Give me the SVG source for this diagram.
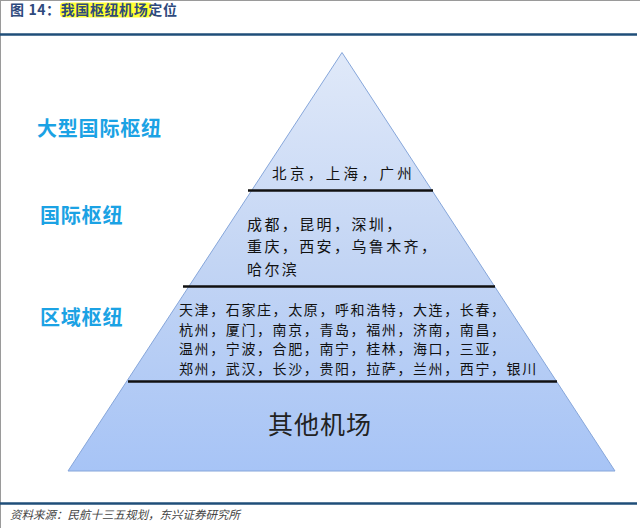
<svg xmlns="http://www.w3.org/2000/svg" width="640" height="528" viewBox="0 0 640 528">
  <defs>
    <linearGradient id="pyr" x1="0" y1="52" x2="0" y2="471" gradientUnits="userSpaceOnUse">
      <stop offset="0" stop-color="#e0e9f9"/>
      <stop offset="0.5" stop-color="#c3d5f4"/>
      <stop offset="1" stop-color="#a7c4f6"/>
    </linearGradient>
    <style>
      .cjk { font-family: "Noto Sans CJK SC", "Liberation Sans", sans-serif; }
      .title { font-size: 14px; font-weight: bold; fill: #2e4a7d; letter-spacing: 0.6px; }
      .tier { font-size: 20px; font-weight: bold; fill: #1ba2e4; letter-spacing: 0.8px; }
      .t1 { font-size: 14.5px; fill: #111; letter-spacing: 3.4px; }
      .t2 { font-size: 15px; fill: #111; letter-spacing: 2.4px; }
      .t3 { font-size: 14px; fill: #111; letter-spacing: 1.6px; }
      .t4 { font-size: 25px; fill: #222; letter-spacing: 1px; }
      .foot { font-size: 11.5px; fill: #444; font-style: italic; }
      .divider { stroke: #111; stroke-width: 2.5; }
      .rule { stroke: #1f4e79; stroke-width: 2.5; }
    </style>
  </defs>
  <rect width="640" height="528" fill="#ffffff"/>
  <line x1="0" y1="0.5" x2="640" y2="0.5" stroke="#9a9a9a" stroke-width="1"/>
  <line x1="0.5" y1="0" x2="0.5" y2="528" stroke="#9a9a9a" stroke-width="1"/>

  <g id="title">
    <rect x="60" y="2.5" width="92" height="15" rx="4" fill="#ffff33"/>
    <text class="cjk title" x="10" y="15">图 14：我国枢纽机场定位</text>
  </g>
  <line class="rule" x1="0" y1="34.5" x2="637" y2="34.5"/>

  <g id="pyramid">
    <polygon points="342,52.5 615,471 68,471" fill="url(#pyr)" stroke="#86a6da" stroke-width="1"/>
  </g>

  <g id="connectors">
    <line class="divider" x1="248" y1="190.5" x2="433" y2="190.5"/>
    <line class="divider" x1="183" y1="286.5" x2="495" y2="286.5"/>
    <line class="divider" x1="128" y1="381.5" x2="557" y2="381.5"/>
  </g>

  <g id="tier-large-intl">
    <text class="cjk tier" x="37" y="135.5">大型国际枢纽</text>
    <text class="cjk t1" x="272" y="179">北京，上海，广州</text>
  </g>

  <g id="tier-intl">
    <text class="cjk tier" x="40" y="222.5">国际枢纽</text>
    <text class="cjk t2" x="247" y="229.5">成都，昆明，深圳，</text>
    <text class="cjk t2" x="247" y="252">重庆，西安，乌鲁木齐，</text>
    <text class="cjk t2" x="247" y="274.5">哈尔滨</text>
  </g>

  <g id="tier-regional">
    <text class="cjk tier" x="40" y="324.5">区域枢纽</text>
    <text class="cjk t3" x="179" y="315">天津，石家庄，太原，呼和浩特，大连，长春，</text>
    <text class="cjk t3" x="179" y="334.5">杭州，厦门，南京，青岛，福州，济南，南昌，</text>
    <text class="cjk t3" x="179" y="354">温州，宁波，合肥，南宁，桂林，海口，三亚，</text>
    <text class="cjk t3" x="179" y="373.5">郑州，武汉，长沙，贵阳，拉萨，兰州，西宁，银川</text>
  </g>

  <g id="tier-other">
    <text class="cjk t4" x="268" y="434">其他机场</text>
  </g>

  <line class="rule" x1="0" y1="503.5" x2="637" y2="503.5"/>
  <g id="footer">
    <text class="cjk foot" x="10" y="519">资料来源：民航十三五规划，东兴证券研究所</text>
  </g>
</svg>
